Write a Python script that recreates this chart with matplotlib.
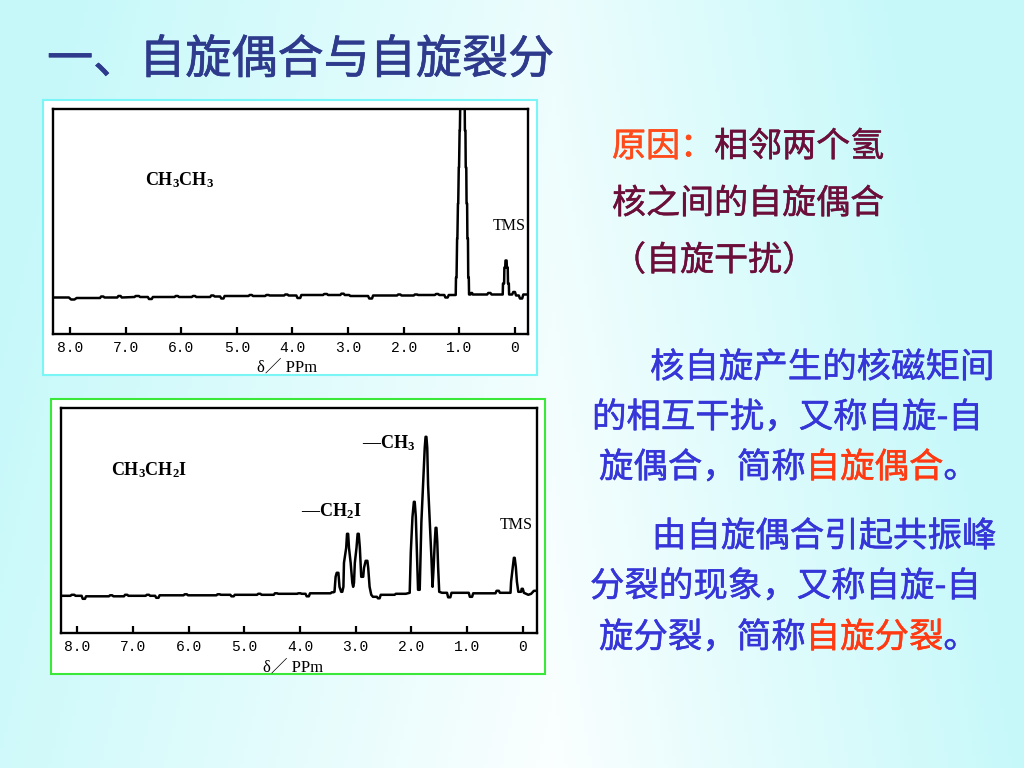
import numpy as np
import matplotlib
matplotlib.use("Agg")
import matplotlib.pyplot as plt
import matplotlib.patheffects as pe
from matplotlib.patches import Rectangle

W, H = 1024, 768
CJK = ['Noto Sans CJK SC', 'DejaVu Sans']
SERIF = ['Liberation Serif', 'DejaVu Serif', 'Noto Sans CJK SC']
plt.rcParams['mathtext.fontset'] = 'custom'
plt.rcParams['mathtext.rm'] = 'Liberation Serif:bold'
plt.rcParams['mathtext.it'] = 'Liberation Serif:bold'
plt.rcParams['mathtext.bf'] = 'Liberation Serif:bold'

# ---------------------------------------------------------------------------
# Datos (ppm, intensidad relativa a la linea base)

tick_vals = [8, 7, 6, 5, 4, 3, 2, 1, 0]
tick_labels = ["8.0", "7.0", "6.0", "5.0", "4.0", "3.0", "2.0", "1.0", "0"]

# CH3CH3
top_ppm = [8.30, 8.15, 8.02, 7.98, 7.92, 7.88, 7.70, 7.46, 7.44, 7.40, 7.38, 7.15, 7.13, 7.09, 7.07,
           6.84, 6.82, 6.76, 6.74, 6.60, 6.58, 6.53, 6.51, 6.12, 6.10, 6.06, 6.04, 5.81, 5.79, 5.75,
           5.73, 5.48, 5.46, 5.42, 5.40, 5.30, 5.28, 5.24, 5.22, 4.79, 4.77, 4.73, 4.71, 4.49, 4.47,
           4.43, 4.41, 4.15, 4.13, 4.09, 4.07, 3.93, 3.91, 3.86, 3.84, 3.45, 3.43, 3.38, 3.36, 3.14,
           3.12, 3.08, 3.06, 2.98, 2.96, 2.64, 2.62, 2.57, 2.55, 2.12, 2.10, 2.06, 2.04, 1.82, 1.80,
           1.76, 1.74, 1.44, 1.42, 1.38, 1.36, 1.27, 1.25, 1.21, 1.19, 1.065,
           1.06, 1.05, 1.04, 1.035, 1.025, 1.02, 1.01, 1.005, 0.995, 0.99, 0.98, 0.975,
           0.905, 0.90, 0.89, 0.885, 0.875, 0.87, 0.86, 0.855, 0.845, 0.84, 0.83, 0.825,
           0.80, 0.79, 0.77, 0.76, 0.50, 0.48, 0.44, 0.42, 0.22,
           0.215, 0.195, 0.19, 0.175, 0.17, 0.15, 0.145, 0.13, 0.125, 0.11, 0.105,
           0.05, 0.03, 0.00, -0.02, -0.07, -0.09, -0.13, -0.15, -0.24]
top_int = [-2, -2, -2, -4, -4, -2.5, -2.5, -2.5, -1, -1, -2, -2, -0.5, -0.5, -2,
           -1.5, -0.5, -0.5, -1.5, -1.5, -3.5, -3.5, -1.5, -1.5, -0.5, -0.5, -1.5, -1.5, -0.5, -0.5,
           -1.5, -1.5, 0, 0, -1, -1, -3, -3, -0.5, -0.5, 0.5, 0.5, -0.5, -0.5, 0.5,
           0.5, 0, 0, 1, 1, 0, 0, -2.5, -2.5, 0.5, 0.5, 1.5, 1.5, 0.5, 0.5,
           1.8, 1.8, 0.5, 0.5, -0.5, -0.5, -3, -3, 0, 0, 1, 1, 0, 0, 1,
           1, 0.5, 0.5, 1.5, 1.5, 0.5, 0.5, -2, -2, 0.5, 0.5,
           18, 18, 57, 57, 92, 92, 128, 128, 165, 165, 205, 205,
           205, 165, 165, 128, 128, 92, 92, 57, 57, 18, 18, 1,
           1, 2.5, 2.5, 1, 1, 2.5, 2.5, 1, 1,
           12, 12, 28, 28, 35, 35, 28, 28, 12, 12, 1,
           1, 3.5, 3.5, 0, 0, -3, -3, 1, 1]

# CH3CH2I
bot_ppm = [8.30, 8.12, 8.10, 8.05, 8.03, 7.92, 7.90, 7.86, 7.84, 7.43, 7.41, 7.37, 7.35, 7.16, 7.14,
           7.10, 7.08, 6.77, 6.75, 6.71, 6.69, 6.60, 6.58, 6.54, 6.52, 6.09, 6.07, 6.03, 6.01, 5.50,
           5.48, 5.44, 5.42, 5.25, 5.23, 5.19, 5.17, 4.77, 4.75, 4.71, 4.69, 4.47, 4.45, 4.41, 4.39,
           4.05, 4.03, 3.99, 3.97, 3.90, 3.88, 3.84, 3.82, 3.45, 3.43, 3.40,
           3.38, 3.36, 3.34, 3.31, 3.29, 3.26, 3.24, 3.22, 3.21, 3.17, 3.155, 3.135, 3.12, 3.09,
           3.06, 3.045, 3.03, 3.015, 2.985, 2.965, 2.945, 2.925, 2.90, 2.865, 2.85, 2.82, 2.79,
           2.775, 2.75, 2.72, 2.69, 2.62, 2.60, 2.57, 2.55, 2.30, 2.28, 2.10, 2.03,
           2.01, 1.98, 1.955, 1.94, 1.92, 1.90, 1.88, 1.85, 1.82, 1.79, 1.76, 1.745, 1.73, 1.715,
           1.70, 1.67, 1.64, 1.62, 1.60, 1.58, 1.565, 1.55, 1.535, 1.52, 1.50,
           1.45, 1.36, 1.34, 1.30, 1.28, 0.97, 0.95, 0.91, 0.89, 0.49, 0.47, 0.43, 0.41, 0.22,
           0.21, 0.18, 0.16, 0.145, 0.125, 0.105, 0.08, 0.03, 0.02, 0.00, -0.02, -0.10, -0.15,
           -0.20, -0.25]
bot_int = [-1, -1, 0, 0, -1, -1, -4, -4, -1.5, -1.5, -0.5, -0.5, -1.5, -1.5, 0,
           0, -1, -1, 0, 0, -1, -1, -3, -3, -0.5, -0.5, 0.5, 0.5, -0.5, -0.5,
           0.5, 0.5, 0, 0, -1.5, -1.5, 0, 0, 1, 1, 0, 0, 1.5, 1.5, 1,
           1, 1.5, 1.5, 1, 1, -1.5, -1.5, 1.5, 1.5, 2.5, 2.5,
           3, 18, 22, 22, 8, 3, 3, 8, 32, 47, 61, 61, 47, 32,
           12, 8, 12, 32, 47, 61, 61, 47, 18, 18, 27, 34, 34,
           27, 8, 0, -2, -2, -3.5, -3.5, 0, 0, 1, 1, 2,
           43, 78, 93, 93, 78, 43, 5, 5, 73, 110, 147, 158, 158, 147,
           110, 73, 37, 8, 28, 53, 67, 67, 53, 28, 3,
           2, 2, -2.5, -2.5, 2, 2, -2, -2, 1.5, 1.5, 4, 4, 2, 2,
           13, 28, 37, 37, 28, 13, 3, 3, 6, 6, 2, 0, 1,
           4, 4]

# ---------------------------------------------------------------------------

def fx(x):
    return x / W

def fy(y):
    return 1 - y / H

fig = plt.figure(figsize=(W / 100, H / 100), dpi=100)

# fondo degradado cian / blanco
bg = fig.add_axes([0, 0, 1, 1], zorder=-5)
gx, gy = np.meshgrid(np.linspace(0, 1, 256), np.linspace(0, 1, 192))
f = np.maximum(0.85 * (1 - gx / 0.6), (gx - 0.5) / 0.5)
f = np.clip(f + 0.25 * (1 - gy), 0, 1)
cyan = np.array([0.78, 0.975, 0.98])
img = 1 - f[..., None] * (1 - cyan)
bg.imshow(img, aspect='auto', extent=[0, 1, 0, 1], origin='upper')
bg.set_xlim(0, 1)
bg.set_ylim(0, 1)
bg.axis('off')

# marcos de las dos imagenes
fig.patches.append(Rectangle((fx(43.3), fy(375)), (536.7 - 43.3) / W, (375 - 100) / H, zorder=-2,
                             transform=fig.transFigure, facecolor='white', edgecolor='#7af6f6', lw=1.5))
fig.patches.append(Rectangle((fx(51), fy(674)), (545 - 51) / W, (674 - 399) / H, zorder=-2,
                             transform=fig.transFigure, facecolor='white', edgecolor='#3ae83a', lw=1.5))


def spectrum(box, xlim, ppm, inten):
    l, t, r, b = box
    ax = fig.add_axes([fx(l), fy(b), (r - l) / W, (b - t) / H], zorder=1)
    ax.plot(ppm, inten, color='black', lw=1.8)
    ax.set_xlim(*xlim)
    ax.set_ylim(-38.5, 186.5)
    ax.set_yticks([])
    ax.set_xticks(tick_vals)
    ax.set_xticklabels(tick_labels, family=['Liberation Mono', 'DejaVu Sans Mono'], fontsize=10.5)
    ax.tick_params(axis='x', direction='in', length=5, width=1.6, pad=5)
    for s in ax.spines.values():
        s.set_linewidth(1.7)
    return ax


ax1 = spectrum((53.3, 109, 528.3, 334), (8.30, -0.24), top_ppm, top_int)
ax2 = spectrum((61, 408.3, 536.7, 633.3), (8.29, -0.25), bot_ppm, bot_int)

# etiquetas de los espectros
def label(x, y, s, size=13, bold=True, ha='left'):
    fig.text(fx(x), fy(y), s, family=SERIF, fontsize=size, weight='bold' if bold else 'normal',
             va='baseline', ha=ha, zorder=3)


label(145, 185, "CH$_3$CH$_3$")
label(493, 230, "TMS", size=11.5, bold=False)
label(287, 372, "δ／ PPm", size=12, bold=False, ha='center')

label(111, 475, "CH$_3$CH$_2$I")
label(362, 448, "—CH$_3$")
label(301, 516, "—CH$_2$I")
label(500, 529, "TMS", size=11.5, bold=False)
label(293, 672, "δ／ PPm", size=12, bold=False, ha='center')


def cjk(x, y, s, size, color, stroke=0.35):
    fig.text(fx(x), fy(y), s, family=CJK, fontsize=size, color=color, va='center',
             path_effects=[pe.withStroke(linewidth=stroke, foreground=color)])


# titulo
cjk(47, 60, "一、自旋偶合与自旋裂分", 33.2, '#2e3a8c', stroke=0.5)

# texto de la derecha
FS1 = 24.5
em1 = FS1 * 100 / 72
cjk(612, 147, "原因：", FS1, '#ff4a1a')
cjk(612 + 3 * em1, 147, "相邻两个氢", FS1, '#6b0f3a')
cjk(612, 204, "核之间的自旋偶合", FS1, '#6b0f3a')
cjk(612, 261, "（自旋干扰）", FS1, '#6b0f3a')

FS2 = 24.8
em2 = FS2 * 100 / 72
BLUE = '#3535d8'
RED = '#ff3a12'


def colored_line(x, y, parts):
    for s, c in parts:
        cjk(x, y, s, FS2, c)
        x += len(s) * em2


colored_line(650, 368, [("核自旋产生的核磁矩间", BLUE)])
colored_line(592, 418, [("的相互干扰，又称自旋-自", BLUE)])
colored_line(599, 468, [("旋偶合，简称", BLUE), ("自旋偶合", RED), ("。", BLUE)])
colored_line(652, 537, [("由自旋偶合引起共振峰", BLUE)])
colored_line(590, 587, [("分裂的现象，又称自旋-自", BLUE)])
colored_line(599, 638, [("旋分裂，简称", BLUE), ("自旋分裂", RED), ("。", BLUE)])

fig.savefig("out.png", dpi=100)
